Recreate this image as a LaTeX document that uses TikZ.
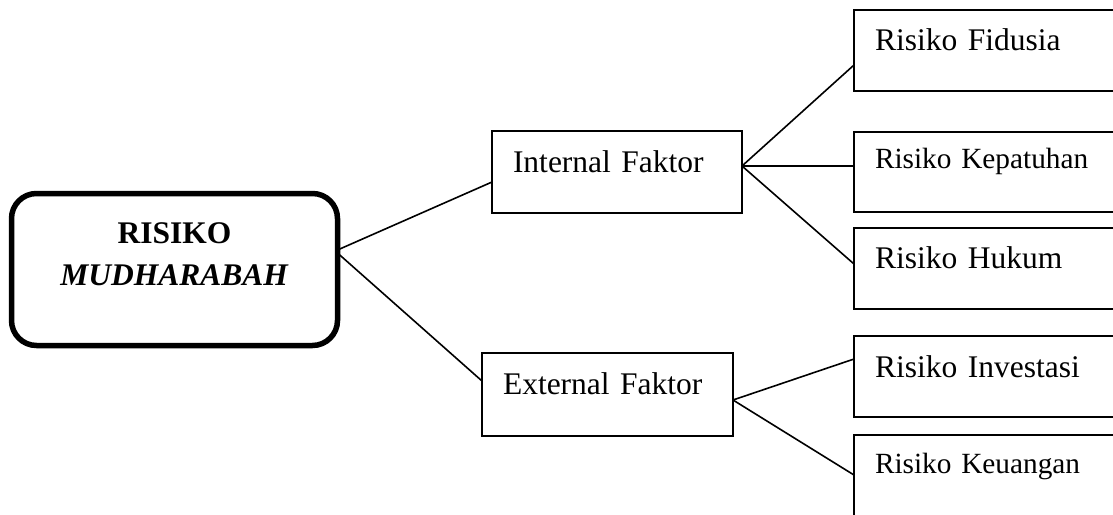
\documentclass[tikz,border=0pt]{standalone}
\usepackage{fontspec}
\setmainfont{Liberation Serif}
\usetikzlibrary{calc}
\tikzset{
  big/.style={font=\fontsize{31.5}{38}\selectfont},
  small/.style={font=\fontsize{29.3}{35}\selectfont},
  box/.style={draw, line width=1.6pt, rectangle, inner ysep=0pt, inner xsep=21pt,
    outer sep=0pt, align=left, anchor=north west},
  conn/.style={line width=1.6pt},
  mainbox/.style={draw, line width=5.5pt, rounded corners=25pt, inner sep=0pt,
    outer sep=0pt, align=center, anchor=north west,
    font=\fontsize{31.5}{42}\selectfont}
}
\begin{document}
\begin{tikzpicture}[x=1pt,y=-1pt]
\useasboundingbox (0,0) rectangle (1113,514);
\clip (0,0) rectangle (1113,514);
% main rounded box
\node[mainbox, text width=326pt, text height=49.5pt, text depth=102.5pt] (main) at (11.5,193.5)
  {\textbf{RISIKO}\\\textbf{\textit{MUDHARABAH}}};
% level 2
\node[box, big, text width=208pt, text height=41pt, text depth=41pt] (int) at (492,131) {Internal Faktor};
\node[box, big, text width=209pt, text height=41pt, text depth=42pt] (ext) at (482,353) {External Faktor};
% level 3
\node[box, big, text width=244pt, text height=40pt, text depth=41pt] (fid) at (854,10) {Risiko Fidusia};
\node[box, small, text width=244pt, text height=36pt, text depth=44pt] (kep) at (854,132) {Risiko Kepatuhan};
\node[box, big, text width=244pt, text height=40pt, text depth=41pt] (huk) at (854,228) {Risiko Hukum};
\node[box, big, text width=244pt, text height=41pt, text depth=40pt] (inv) at (854,336) {Risiko Investasi};
\node[box, small, text width=244pt, text height=38pt, text depth=60pt] (keu) at (854,435) {Risiko Keuangan};
% connector points
\coordinate (mA) at ($(main.north east)+(0,56.5)$);
\coordinate (mB) at ($(main.north east)+(0,59.5)$);
\coordinate (intL) at ($(int.north west)+(0,51)$);
\coordinate (extL) at ($(ext.north west)+(0,28)$);
\coordinate (intR) at ($(int.north east)+(0,35)$);
\coordinate (extR) at ($(ext.north east)+(0,47)$);
\coordinate (fidL) at ($(fid.north west)+(0,55)$);
\coordinate (kepL) at ($(kep.north west)+(0,34)$);
\coordinate (hukL) at ($(huk.north west)+(0,36)$);
\coordinate (invL) at ($(inv.north west)+(0,23)$);
\coordinate (keuL) at ($(keu.north west)+(0,40)$);
% connectors
\draw[conn] (mA) -- (intL);
\draw[conn] (mB) -- (extL);
\draw[conn] (intR) -- (fidL);
\draw[conn] (intR) -- (kepL);
\draw[conn] (intR) -- (hukL);
\draw[conn] (extR) -- (invL);
\draw[conn] (extR) -- (keuL);
\end{tikzpicture}
\end{document}
